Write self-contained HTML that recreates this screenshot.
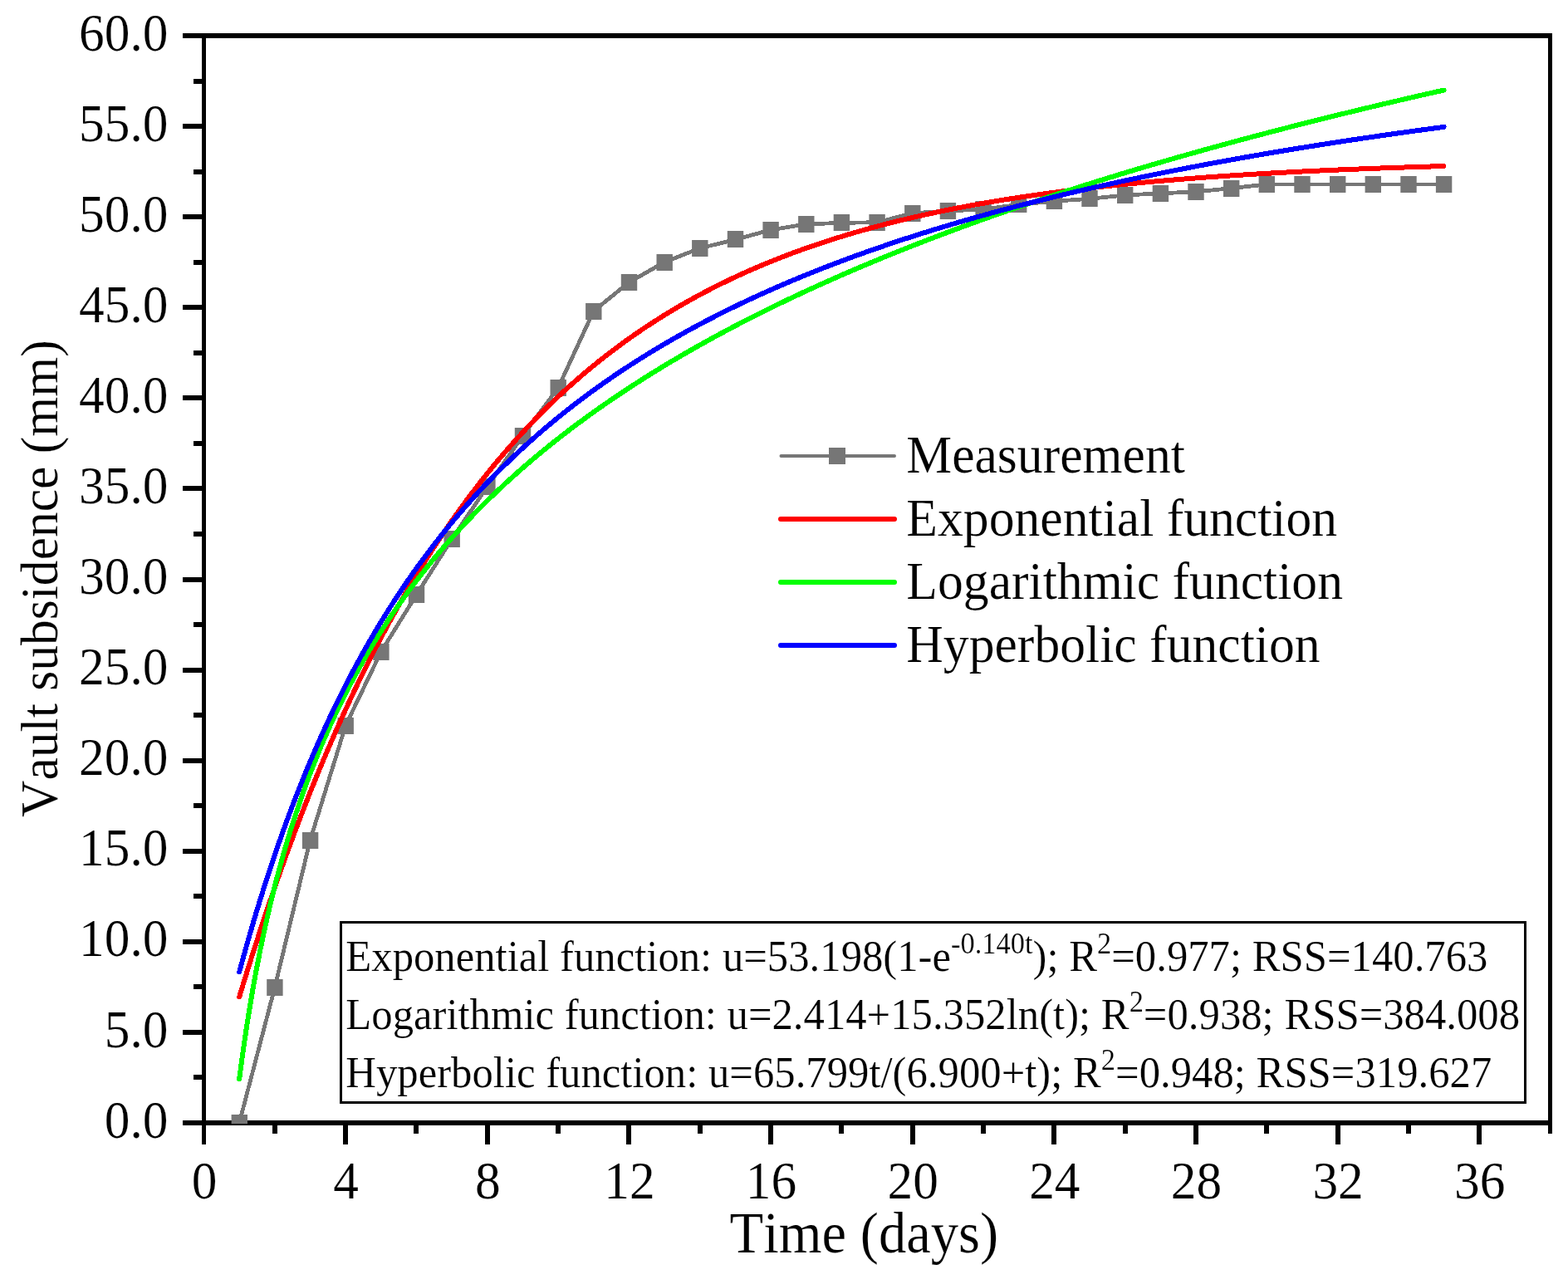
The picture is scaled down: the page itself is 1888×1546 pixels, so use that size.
<!DOCTYPE html>
<html lang="en"><head><meta charset="utf-8"><title>Vault subsidence fitting curves</title>
<style>
html,body{margin:0;padding:0;background:#fff;}
body{width:1888px;height:1546px;overflow:hidden;}
svg{display:block;}
text{font-family:"Liberation Serif",serif;fill:#000;font-kerning:none;font-variant-ligatures:none;stroke:#fff;stroke-width:0.2px;stroke-linejoin:round;}
.tick{font-size:62.6px;}
.leg{font-size:63px;}
.box{font-size:52px;}
</style></head><body>
<svg width="1888" height="1546" viewBox="0 0 1888 1546">
<rect x="0" y="0" width="1888" height="1546" fill="#ffffff"/>
<defs><clipPath id="plotclip"><rect x="245" y="43" width="1622" height="1310"/></clipPath></defs>
<g id="axes" fill="#000" shape-rendering="crispEdges">
<rect x="220" y="40" width="1649" height="6"/>
<rect x="220" y="1349" width="1649" height="6"/>
<rect x="243" y="40" width="5" height="1338"/>
<rect x="1864" y="40" width="5" height="1325"/>
<rect x="233" y="1294.0" width="11" height="6"/>
<rect x="220" y="1240.0" width="24" height="6"/>
<rect x="233" y="1185.0" width="11" height="6"/>
<rect x="220" y="1131.0" width="24" height="6"/>
<rect x="233" y="1076.0" width="11" height="6"/>
<rect x="220" y="1022.0" width="24" height="6"/>
<rect x="233" y="967.0" width="11" height="6"/>
<rect x="220" y="913.0" width="24" height="6"/>
<rect x="233" y="858.0" width="11" height="6"/>
<rect x="220" y="804.0" width="24" height="6"/>
<rect x="233" y="749.0" width="11" height="6"/>
<rect x="220" y="695.0" width="24" height="6"/>
<rect x="233" y="640.0" width="11" height="6"/>
<rect x="220" y="585.0" width="24" height="6"/>
<rect x="233" y="531.0" width="11" height="6"/>
<rect x="220" y="476.0" width="24" height="6"/>
<rect x="233" y="422.0" width="11" height="6"/>
<rect x="220" y="367.0" width="24" height="6"/>
<rect x="233" y="313.0" width="11" height="6"/>
<rect x="220" y="258.0" width="24" height="6"/>
<rect x="233" y="204.0" width="11" height="6"/>
<rect x="220" y="149.0" width="24" height="6"/>
<rect x="233" y="95.0" width="11" height="6"/>
<rect x="328.0" y="1352" width="6" height="13"/>
<rect x="413.0" y="1352" width="6" height="26"/>
<rect x="498.0" y="1352" width="6" height="13"/>
<rect x="584.0" y="1352" width="6" height="26"/>
<rect x="669.0" y="1352" width="6" height="13"/>
<rect x="754.0" y="1352" width="6" height="26"/>
<rect x="840.0" y="1352" width="6" height="13"/>
<rect x="925.0" y="1352" width="6" height="26"/>
<rect x="1010.0" y="1352" width="6" height="13"/>
<rect x="1096.0" y="1352" width="6" height="26"/>
<rect x="1181.0" y="1352" width="6" height="13"/>
<rect x="1266.0" y="1352" width="6" height="26"/>
<rect x="1352.0" y="1352" width="6" height="13"/>
<rect x="1437.0" y="1352" width="6" height="26"/>
<rect x="1522.0" y="1352" width="6" height="13"/>
<rect x="1608.0" y="1352" width="6" height="26"/>
<rect x="1693.0" y="1352" width="6" height="13"/>
<rect x="1778.0" y="1352" width="6" height="26"/>
</g>
<g id="ylabels" class="tick" text-anchor="end">
<text transform="translate(202.4,1369.6) scale(0.98,1)">0.0</text>
<text transform="translate(202.4,1260.5) scale(0.98,1)">5.0</text>
<text transform="translate(202.4,1151.4) scale(0.98,1)">10.0</text>
<text transform="translate(202.4,1042.3) scale(0.98,1)">15.0</text>
<text transform="translate(202.4,933.3) scale(0.98,1)">20.0</text>
<text transform="translate(202.4,824.2) scale(0.98,1)">25.0</text>
<text transform="translate(202.4,715.1) scale(0.98,1)">30.0</text>
<text transform="translate(202.4,606.0) scale(0.98,1)">35.0</text>
<text transform="translate(202.4,496.9) scale(0.98,1)">40.0</text>
<text transform="translate(202.4,387.9) scale(0.98,1)">45.0</text>
<text transform="translate(202.4,278.8) scale(0.98,1)">50.0</text>
<text transform="translate(202.4,169.7) scale(0.98,1)">55.0</text>
<text transform="translate(202.4,60.6) scale(0.98,1)">60.0</text>
</g>
<g id="xlabels" class="tick" text-anchor="middle">
<text transform="translate(246.0,1443) scale(0.98,1)">0</text>
<text transform="translate(416.6,1443) scale(0.98,1)">4</text>
<text transform="translate(587.3,1443) scale(0.98,1)">8</text>
<text transform="translate(757.9,1443) scale(0.98,1)">12</text>
<text transform="translate(928.5,1443) scale(0.98,1)">16</text>
<text transform="translate(1099.2,1443) scale(0.98,1)">20</text>
<text transform="translate(1269.8,1443) scale(0.98,1)">24</text>
<text transform="translate(1440.4,1443) scale(0.98,1)">28</text>
<text transform="translate(1611.1,1443) scale(0.98,1)">32</text>
<text transform="translate(1781.7,1443) scale(0.98,1)">36</text>
</g>
<text id="xtitle" x="878.6" y="1508.3" font-size="69" textLength="323.5" lengthAdjust="spacingAndGlyphs">Time (days)</text>
<text id="ytitle" transform="translate(69,984) rotate(-90) scale(0.9625,1)" font-size="64">Vault subsidence (mm)</text>
<g id="series" clip-path="url(#plotclip)" fill="none" stroke-linejoin="round" stroke-linecap="round" shape-rendering="crispEdges">
<polyline points="288.16,1352.00 330.82,1189.03 373.47,1011.66 416.13,873.56 458.79,784.77 501.45,716.04 544.11,649.07 586.76,585.80 629.42,524.71 672.08,466.90 714.74,374.61 757.39,339.92 800.05,315.71 842.71,298.91 885.37,288.44 928.03,276.87 970.68,269.89 1013.34,268.37 1056.00,267.71 1098.66,256.80 1141.32,253.97 1183.97,252.00 1226.63,246.33 1269.29,242.19 1311.95,239.35 1354.61,234.99 1397.26,232.81 1439.92,230.84 1482.58,226.70 1525.24,221.90 1567.89,221.90 1610.55,221.90 1653.21,221.90 1695.87,221.90 1738.53,221.90" stroke="#767676" stroke-width="4.8"/>
<rect x="278.6" y="1342" width="19.4" height="20" fill="#767676" stroke="none" shape-rendering="auto"/>
<rect x="321.2" y="1179" width="19.4" height="20" fill="#767676" stroke="none" shape-rendering="auto"/>
<rect x="363.9" y="1002" width="19.4" height="20" fill="#767676" stroke="none" shape-rendering="auto"/>
<rect x="406.5" y="864" width="19.4" height="20" fill="#767676" stroke="none" shape-rendering="auto"/>
<rect x="449.2" y="775" width="19.4" height="20" fill="#767676" stroke="none" shape-rendering="auto"/>
<rect x="491.8" y="706" width="19.4" height="20" fill="#767676" stroke="none" shape-rendering="auto"/>
<rect x="534.5" y="639" width="19.4" height="20" fill="#767676" stroke="none" shape-rendering="auto"/>
<rect x="577.2" y="576" width="19.4" height="20" fill="#767676" stroke="none" shape-rendering="auto"/>
<rect x="619.8" y="515" width="19.4" height="20" fill="#767676" stroke="none" shape-rendering="auto"/>
<rect x="662.5" y="457" width="19.4" height="20" fill="#767676" stroke="none" shape-rendering="auto"/>
<rect x="705.1" y="365" width="19.4" height="20" fill="#767676" stroke="none" shape-rendering="auto"/>
<rect x="747.8" y="330" width="19.4" height="20" fill="#767676" stroke="none" shape-rendering="auto"/>
<rect x="790.5" y="306" width="19.4" height="20" fill="#767676" stroke="none" shape-rendering="auto"/>
<rect x="833.1" y="289" width="19.4" height="20" fill="#767676" stroke="none" shape-rendering="auto"/>
<rect x="875.8" y="278" width="19.4" height="20" fill="#767676" stroke="none" shape-rendering="auto"/>
<rect x="918.4" y="267" width="19.4" height="20" fill="#767676" stroke="none" shape-rendering="auto"/>
<rect x="961.1" y="260" width="19.4" height="20" fill="#767676" stroke="none" shape-rendering="auto"/>
<rect x="1003.7" y="258" width="19.4" height="20" fill="#767676" stroke="none" shape-rendering="auto"/>
<rect x="1046.4" y="258" width="19.4" height="20" fill="#767676" stroke="none" shape-rendering="auto"/>
<rect x="1089.1" y="247" width="19.4" height="20" fill="#767676" stroke="none" shape-rendering="auto"/>
<rect x="1131.7" y="244" width="19.4" height="20" fill="#767676" stroke="none" shape-rendering="auto"/>
<rect x="1174.4" y="242" width="19.4" height="20" fill="#767676" stroke="none" shape-rendering="auto"/>
<rect x="1217.0" y="236" width="19.4" height="20" fill="#767676" stroke="none" shape-rendering="auto"/>
<rect x="1259.7" y="232" width="19.4" height="20" fill="#767676" stroke="none" shape-rendering="auto"/>
<rect x="1302.3" y="229" width="19.4" height="20" fill="#767676" stroke="none" shape-rendering="auto"/>
<rect x="1345.0" y="225" width="19.4" height="20" fill="#767676" stroke="none" shape-rendering="auto"/>
<rect x="1387.7" y="223" width="19.4" height="20" fill="#767676" stroke="none" shape-rendering="auto"/>
<rect x="1430.3" y="221" width="19.4" height="20" fill="#767676" stroke="none" shape-rendering="auto"/>
<rect x="1473.0" y="217" width="19.4" height="20" fill="#767676" stroke="none" shape-rendering="auto"/>
<rect x="1515.6" y="212" width="19.4" height="20" fill="#767676" stroke="none" shape-rendering="auto"/>
<rect x="1558.3" y="212" width="19.4" height="20" fill="#767676" stroke="none" shape-rendering="auto"/>
<rect x="1601.0" y="212" width="19.4" height="20" fill="#767676" stroke="none" shape-rendering="auto"/>
<rect x="1643.6" y="212" width="19.4" height="20" fill="#767676" stroke="none" shape-rendering="auto"/>
<rect x="1686.3" y="212" width="19.4" height="20" fill="#767676" stroke="none" shape-rendering="auto"/>
<rect x="1728.9" y="212" width="19.4" height="20" fill="#767676" stroke="none" shape-rendering="auto"/>
<polyline points="288.16,1200.38 292.42,1186.35 296.69,1172.52 300.96,1158.88 305.22,1145.43 309.49,1132.16 313.75,1119.08 318.02,1106.19 322.28,1093.47 326.55,1080.93 330.82,1068.56 335.08,1056.37 339.35,1044.34 343.61,1032.48 347.88,1020.79 352.14,1009.26 356.41,997.89 360.68,986.68 364.94,975.62 369.21,964.72 373.47,953.97 377.74,943.37 382.01,932.91 386.27,922.60 390.54,912.44 394.80,902.41 399.07,892.53 403.33,882.78 407.60,873.17 411.87,863.69 416.13,854.34 420.40,845.13 424.66,836.04 428.93,827.08 433.19,818.24 437.46,809.52 441.73,800.93 445.99,792.46 450.26,784.10 454.52,775.86 458.79,767.74 463.06,759.72 467.32,751.82 471.59,744.03 475.85,736.35 480.12,728.77 484.38,721.30 488.65,713.93 492.92,706.67 497.18,699.51 501.45,692.44 505.71,685.48 509.98,678.61 514.24,671.83 518.51,665.15 522.78,658.57 527.04,652.07 531.31,645.67 535.57,639.35 539.84,633.13 544.11,626.98 548.37,620.93 552.64,614.96 556.90,609.07 561.17,603.26 565.43,597.54 569.70,591.89 573.97,586.32 578.23,580.83 582.50,575.42 586.76,570.08 591.03,564.81 595.29,559.62 599.56,554.50 603.83,549.45 608.09,544.48 612.36,539.57 616.62,534.73 620.89,529.95 625.16,525.25 629.42,520.61 633.69,516.03 637.95,511.52 642.22,507.07 646.48,502.68 650.75,498.35 655.02,494.08 659.28,489.87 663.55,485.73 667.81,481.63 672.08,477.60 676.34,473.62 680.61,469.70 684.88,465.83 689.14,462.01 693.41,458.25 697.67,454.54 701.94,450.88 706.21,447.27 710.47,443.72 714.74,440.21 719.00,436.75 723.27,433.34 727.53,429.97 731.80,426.66 736.07,423.39 740.33,420.16 744.60,416.98 748.86,413.85 753.13,410.75 757.39,407.70 761.66,404.70 765.93,401.73 770.19,398.81 774.46,395.92 778.72,393.08 782.99,390.28 787.26,387.51 791.52,384.78 795.79,382.10 800.05,379.44 804.32,376.83 808.58,374.25 812.85,371.71 817.12,369.20 821.38,366.73 825.65,364.29 829.91,361.89 834.18,359.52 838.44,357.18 842.71,354.88 846.98,352.60 851.24,350.36 855.51,348.15 859.77,345.97 864.04,343.83 868.31,341.71 872.57,339.62 876.84,337.56 881.10,335.52 885.37,333.52 889.63,331.54 893.90,329.60 898.17,327.67 902.43,325.78 906.70,323.91 910.96,322.07 915.23,320.25 919.49,318.46 923.76,316.69 928.03,314.95 932.29,313.24 936.56,311.54 940.82,309.87 945.09,308.22 949.36,306.60 953.62,305.00 957.89,303.42 962.15,301.86 966.42,300.33 970.68,298.81 974.95,297.32 979.22,295.85 983.48,294.39 987.75,292.96 992.01,291.55 996.28,290.16 1000.54,288.78 1004.81,287.43 1009.08,286.10 1013.34,284.78 1017.61,283.48 1021.87,282.20 1026.14,280.94 1030.41,279.69 1034.67,278.47 1038.94,277.25 1043.20,276.06 1047.47,274.88 1051.73,273.72 1056.00,272.58 1060.27,271.45 1064.53,270.34 1068.80,269.24 1073.06,268.16 1077.33,267.09 1081.59,266.04 1085.86,265.00 1090.13,263.98 1094.39,262.97 1098.66,261.97 1102.92,260.99 1107.19,260.02 1111.46,259.07 1115.72,258.13 1119.99,257.20 1124.25,256.29 1128.52,255.38 1132.78,254.50 1137.05,253.62 1141.32,252.75 1145.58,251.90 1149.85,251.06 1154.11,250.23 1158.38,249.41 1162.64,248.61 1166.91,247.81 1171.18,247.03 1175.44,246.25 1179.71,245.49 1183.97,244.74 1188.24,244.00 1192.51,243.26 1196.77,242.54 1201.04,241.83 1205.30,241.13 1209.57,240.44 1213.83,239.76 1218.10,239.09 1222.37,238.42 1226.63,237.77 1230.90,237.12 1235.16,236.49 1239.43,235.86 1243.69,235.24 1247.96,234.63 1252.23,234.03 1256.49,233.44 1260.76,232.86 1265.02,232.28 1269.29,231.71 1273.56,231.15 1277.82,230.60 1282.09,230.05 1286.35,229.52 1290.62,228.99 1294.88,228.46 1299.15,227.95 1303.42,227.44 1307.68,226.94 1311.95,226.44 1316.21,225.96 1320.48,225.48 1324.74,225.00 1329.01,224.54 1333.28,224.07 1337.54,223.62 1341.81,223.17 1346.07,222.73 1350.34,222.30 1354.61,221.87 1358.87,221.44 1363.14,221.02 1367.40,220.61 1371.67,220.21 1375.93,219.81 1380.20,219.41 1384.47,219.02 1388.73,218.64 1393.00,218.26 1397.26,217.89 1401.53,217.52 1405.79,217.15 1410.06,216.80 1414.33,216.44 1418.59,216.09 1422.86,215.75 1427.12,215.41 1431.39,215.08 1435.66,214.75 1439.92,214.42 1444.19,214.10 1448.45,213.79 1452.72,213.48 1456.98,213.17 1461.25,212.87 1465.52,212.57 1469.78,212.27 1474.05,211.98 1478.31,211.70 1482.58,211.42 1486.84,211.14 1491.11,210.86 1495.38,210.59 1499.64,210.33 1503.91,210.06 1508.17,209.80 1512.44,209.55 1516.71,209.30 1520.97,209.05 1525.24,208.80 1529.50,208.56 1533.77,208.32 1538.03,208.09 1542.30,207.85 1546.57,207.62 1550.83,207.40 1555.10,207.18 1559.36,206.96 1563.63,206.74 1567.89,206.53 1572.16,206.32 1576.43,206.11 1580.69,205.90 1584.96,205.70 1589.22,205.50 1593.49,205.31 1597.76,205.11 1602.02,204.92 1606.29,204.74 1610.55,204.55 1614.82,204.37 1619.08,204.19 1623.35,204.01 1627.62,203.83 1631.88,203.66 1636.15,203.49 1640.41,203.32 1644.68,203.16 1648.94,202.99 1653.21,202.83 1657.48,202.67 1661.74,202.52 1666.01,202.36 1670.27,202.21 1674.54,202.06 1678.81,201.91 1683.07,201.76 1687.34,201.62 1691.60,201.48 1695.87,201.34 1700.13,201.20 1704.40,201.06 1708.67,200.93 1712.93,200.80 1717.20,200.67 1721.46,200.54 1725.73,200.41 1729.99,200.28 1734.26,200.16 1738.53,200.04" stroke="#ff0000" stroke-width="6"/>
<polyline points="288.16,1299.33 292.42,1267.41 296.69,1238.27 300.96,1211.46 305.22,1186.64 309.49,1163.53 313.75,1141.92 318.02,1121.61 322.28,1102.47 326.55,1084.36 330.82,1067.18 335.08,1050.84 339.35,1035.26 343.61,1020.37 347.88,1006.11 352.14,992.44 356.41,979.31 360.68,966.67 364.94,954.48 369.21,942.73 373.47,931.38 377.74,920.39 382.01,909.76 386.27,899.45 390.54,889.46 394.80,879.75 399.07,870.31 403.33,861.14 407.60,852.20 411.87,843.50 416.13,835.02 420.40,826.75 424.66,818.68 428.93,810.80 433.19,803.10 437.46,795.57 441.73,788.21 445.99,781.01 450.26,773.96 454.52,767.05 458.79,760.29 463.06,753.65 467.32,747.15 471.59,740.77 475.85,734.51 480.12,728.36 484.38,722.33 488.65,716.40 492.92,710.58 497.18,704.85 501.45,699.22 505.71,693.69 509.98,688.24 514.24,682.88 518.51,677.61 522.78,672.41 527.04,667.30 531.31,662.26 535.57,657.30 539.84,652.41 544.11,647.59 548.37,642.84 552.64,638.16 556.90,633.54 561.17,628.98 565.43,624.48 569.70,620.05 573.97,615.67 578.23,611.35 582.50,607.08 586.76,602.87 591.03,598.71 595.29,594.60 599.56,590.54 603.83,586.53 608.09,582.56 612.36,578.65 616.62,574.77 620.89,570.95 625.16,567.16 629.42,563.42 633.69,559.72 637.95,556.06 642.22,552.44 646.48,548.85 650.75,545.31 655.02,541.80 659.28,538.33 663.55,534.90 667.81,531.50 672.08,528.13 676.34,524.80 680.61,521.50 684.88,518.23 689.14,514.99 693.41,511.79 697.67,508.61 701.94,505.47 706.21,502.35 710.47,499.27 714.74,496.21 719.00,493.18 723.27,490.17 727.53,487.20 731.80,484.25 736.07,481.32 740.33,478.42 744.60,475.55 748.86,472.70 753.13,469.87 757.39,467.07 761.66,464.29 765.93,461.53 770.19,458.80 774.46,456.08 778.72,453.39 782.99,450.72 787.26,448.08 791.52,445.45 795.79,442.84 800.05,440.26 804.32,437.69 808.58,435.14 812.85,432.62 817.12,430.11 821.38,427.62 825.65,425.15 829.91,422.69 834.18,420.26 838.44,417.84 842.71,415.44 846.98,413.05 851.24,410.69 855.51,408.34 859.77,406.00 864.04,403.68 868.31,401.38 872.57,399.10 876.84,396.82 881.10,394.57 885.37,392.33 889.63,390.10 893.90,387.89 898.17,385.70 902.43,383.51 906.70,381.35 910.96,379.19 915.23,377.05 919.49,374.93 923.76,372.81 928.03,370.71 932.29,368.63 936.56,366.55 940.82,364.49 945.09,362.44 949.36,360.41 953.62,358.38 957.89,356.37 962.15,354.37 966.42,352.38 970.68,350.41 974.95,348.44 979.22,346.49 983.48,344.55 987.75,342.62 992.01,340.70 996.28,338.79 1000.54,336.89 1004.81,335.01 1009.08,333.13 1013.34,331.26 1017.61,329.41 1021.87,327.56 1026.14,325.73 1030.41,323.90 1034.67,322.09 1038.94,320.28 1043.20,318.49 1047.47,316.70 1051.73,314.92 1056.00,313.16 1060.27,311.40 1064.53,309.65 1068.80,307.91 1073.06,306.18 1077.33,304.46 1081.59,302.74 1085.86,301.04 1090.13,299.34 1094.39,297.65 1098.66,295.98 1102.92,294.31 1107.19,292.64 1111.46,290.99 1115.72,289.34 1119.99,287.71 1124.25,286.08 1128.52,284.45 1132.78,282.84 1137.05,281.23 1141.32,279.63 1145.58,278.04 1149.85,276.46 1154.11,274.88 1158.38,273.31 1162.64,271.75 1166.91,270.20 1171.18,268.65 1175.44,267.11 1179.71,265.58 1183.97,264.05 1188.24,262.53 1192.51,261.02 1196.77,259.52 1201.04,258.02 1205.30,256.53 1209.57,255.04 1213.83,253.56 1218.10,252.09 1222.37,250.62 1226.63,249.17 1230.90,247.71 1235.16,246.27 1239.43,244.82 1243.69,243.39 1247.96,241.96 1252.23,240.54 1256.49,239.12 1260.76,237.71 1265.02,236.31 1269.29,234.91 1273.56,233.52 1277.82,232.13 1282.09,230.75 1286.35,229.37 1290.62,228.00 1294.88,226.64 1299.15,225.28 1303.42,223.93 1307.68,222.58 1311.95,221.24 1316.21,219.90 1320.48,218.57 1324.74,217.24 1329.01,215.92 1333.28,214.61 1337.54,213.29 1341.81,211.99 1346.07,210.69 1350.34,209.39 1354.61,208.10 1358.87,206.82 1363.14,205.54 1367.40,204.26 1371.67,202.99 1375.93,201.72 1380.20,200.46 1384.47,199.20 1388.73,197.95 1393.00,196.70 1397.26,195.46 1401.53,194.22 1405.79,192.99 1410.06,191.76 1414.33,190.54 1418.59,189.32 1422.86,188.10 1427.12,186.89 1431.39,185.68 1435.66,184.48 1439.92,183.28 1444.19,182.09 1448.45,180.90 1452.72,179.71 1456.98,178.53 1461.25,177.35 1465.52,176.18 1469.78,175.01 1474.05,173.85 1478.31,172.68 1482.58,171.53 1486.84,170.38 1491.11,169.23 1495.38,168.08 1499.64,166.94 1503.91,165.80 1508.17,164.67 1512.44,163.54 1516.71,162.41 1520.97,161.29 1525.24,160.17 1529.50,159.06 1533.77,157.95 1538.03,156.84 1542.30,155.74 1546.57,154.64 1550.83,153.54 1555.10,152.45 1559.36,151.36 1563.63,150.27 1567.89,149.19 1572.16,148.11 1576.43,147.04 1580.69,145.97 1584.96,144.90 1589.22,143.83 1593.49,142.77 1597.76,141.71 1602.02,140.66 1606.29,139.61 1610.55,138.56 1614.82,137.51 1619.08,136.47 1623.35,135.43 1627.62,134.40 1631.88,133.36 1636.15,132.34 1640.41,131.31 1644.68,130.29 1648.94,129.27 1653.21,128.25 1657.48,127.24 1661.74,126.23 1666.01,125.22 1670.27,124.22 1674.54,123.21 1678.81,122.22 1683.07,121.22 1687.34,120.23 1691.60,119.24 1695.87,118.25 1700.13,117.27 1704.40,116.29 1708.67,115.31 1712.93,114.34 1717.20,113.36 1721.46,112.39 1725.73,111.43 1729.99,110.46 1734.26,109.50 1738.53,108.54" stroke="#00ff00" stroke-width="6"/>
<polyline points="288.16,1170.29 292.42,1154.62 296.69,1139.33 300.96,1124.42 305.22,1109.86 309.49,1095.66 313.75,1081.79 318.02,1068.24 322.28,1055.00 326.55,1042.06 330.82,1029.41 335.08,1017.05 339.35,1004.95 343.61,993.12 347.88,981.54 352.14,970.21 356.41,959.12 360.68,948.26 364.94,937.62 369.21,927.20 373.47,917.00 377.74,906.99 382.01,897.18 386.27,887.57 390.54,878.14 394.80,868.89 399.07,859.82 403.33,850.92 407.60,842.19 411.87,833.62 416.13,825.21 420.40,816.94 424.66,808.83 428.93,800.86 433.19,793.04 437.46,785.35 441.73,777.79 445.99,770.37 450.26,763.07 454.52,755.90 458.79,748.84 463.06,741.91 467.32,735.08 471.59,728.37 475.85,721.77 480.12,715.28 484.38,708.89 488.65,702.60 492.92,696.41 497.18,690.32 501.45,684.32 505.71,678.41 509.98,672.60 514.24,666.87 518.51,661.23 522.78,655.67 527.04,650.19 531.31,644.80 535.57,639.48 539.84,634.24 544.11,629.08 548.37,623.99 552.64,618.97 556.90,614.02 561.17,609.15 565.43,604.34 569.70,599.59 573.97,594.91 578.23,590.30 582.50,585.75 586.76,581.25 591.03,576.82 595.29,572.45 599.56,568.13 603.83,563.87 608.09,559.67 612.36,555.52 616.62,551.42 620.89,547.38 625.16,543.39 629.42,539.44 633.69,535.55 637.95,531.71 642.22,527.91 646.48,524.16 650.75,520.45 655.02,516.79 659.28,513.18 663.55,509.60 667.81,506.07 672.08,502.58 676.34,499.14 680.61,495.73 684.88,492.36 689.14,489.03 693.41,485.74 697.67,482.49 701.94,479.27 706.21,476.09 710.47,472.95 714.74,469.84 719.00,466.77 723.27,463.73 727.53,460.72 731.80,457.74 736.07,454.80 740.33,451.89 744.60,449.01 748.86,446.17 753.13,443.35 757.39,440.56 761.66,437.80 765.93,435.07 770.19,432.37 774.46,429.70 778.72,427.05 782.99,424.44 787.26,421.84 791.52,419.28 795.79,416.74 800.05,414.23 804.32,411.74 808.58,409.27 812.85,406.83 817.12,404.42 821.38,402.03 825.65,399.66 829.91,397.31 834.18,394.99 838.44,392.69 842.71,390.41 846.98,388.15 851.24,385.92 855.51,383.70 859.77,381.51 864.04,379.34 868.31,377.19 872.57,375.05 876.84,372.94 881.10,370.85 885.37,368.77 889.63,366.71 893.90,364.68 898.17,362.66 902.43,360.66 906.70,358.67 910.96,356.71 915.23,354.76 919.49,352.83 923.76,350.92 928.03,349.02 932.29,347.14 936.56,345.28 940.82,343.43 945.09,341.59 949.36,339.78 953.62,337.98 957.89,336.19 962.15,334.42 966.42,332.66 970.68,330.92 974.95,329.20 979.22,327.48 983.48,325.78 987.75,324.10 992.01,322.43 996.28,320.77 1000.54,319.13 1004.81,317.50 1009.08,315.88 1013.34,314.28 1017.61,312.69 1021.87,311.11 1026.14,309.54 1030.41,307.99 1034.67,306.45 1038.94,304.92 1043.20,303.40 1047.47,301.90 1051.73,300.40 1056.00,298.92 1060.27,297.45 1064.53,295.99 1068.80,294.54 1073.06,293.10 1077.33,291.68 1081.59,290.26 1085.86,288.86 1090.13,287.46 1094.39,286.08 1098.66,284.70 1102.92,283.34 1107.19,281.99 1111.46,280.64 1115.72,279.31 1119.99,277.98 1124.25,276.67 1128.52,275.36 1132.78,274.07 1137.05,272.78 1141.32,271.50 1145.58,270.24 1149.85,268.98 1154.11,267.73 1158.38,266.49 1162.64,265.25 1166.91,264.03 1171.18,262.82 1175.44,261.61 1179.71,260.41 1183.97,259.22 1188.24,258.04 1192.51,256.86 1196.77,255.70 1201.04,254.54 1205.30,253.39 1209.57,252.25 1213.83,251.12 1218.10,249.99 1222.37,248.87 1226.63,247.76 1230.90,246.65 1235.16,245.56 1239.43,244.47 1243.69,243.38 1247.96,242.31 1252.23,241.24 1256.49,240.18 1260.76,239.13 1265.02,238.08 1269.29,237.04 1273.56,236.00 1277.82,234.98 1282.09,233.95 1286.35,232.94 1290.62,231.93 1294.88,230.93 1299.15,229.94 1303.42,228.95 1307.68,227.96 1311.95,226.99 1316.21,226.02 1320.48,225.05 1324.74,224.10 1329.01,223.14 1333.28,222.20 1337.54,221.26 1341.81,220.32 1346.07,219.39 1350.34,218.47 1354.61,217.55 1358.87,216.64 1363.14,215.73 1367.40,214.83 1371.67,213.93 1375.93,213.04 1380.20,212.16 1384.47,211.28 1388.73,210.40 1393.00,209.53 1397.26,208.67 1401.53,207.81 1405.79,206.96 1410.06,206.11 1414.33,205.26 1418.59,204.42 1422.86,203.59 1427.12,202.76 1431.39,201.93 1435.66,201.11 1439.92,200.30 1444.19,199.49 1448.45,198.68 1452.72,197.88 1456.98,197.08 1461.25,196.29 1465.52,195.50 1469.78,194.72 1474.05,193.94 1478.31,193.16 1482.58,192.39 1486.84,191.63 1491.11,190.86 1495.38,190.11 1499.64,189.35 1503.91,188.60 1508.17,187.86 1512.44,187.11 1516.71,186.38 1520.97,185.64 1525.24,184.91 1529.50,184.19 1533.77,183.47 1538.03,182.75 1542.30,182.04 1546.57,181.33 1550.83,180.62 1555.10,179.92 1559.36,179.22 1563.63,178.52 1567.89,177.83 1572.16,177.14 1576.43,176.46 1580.69,175.78 1584.96,175.10 1589.22,174.43 1593.49,173.76 1597.76,173.09 1602.02,172.43 1606.29,171.77 1610.55,171.11 1614.82,170.46 1619.08,169.81 1623.35,169.17 1627.62,168.52 1631.88,167.88 1636.15,167.25 1640.41,166.61 1644.68,165.98 1648.94,165.36 1653.21,164.73 1657.48,164.11 1661.74,163.49 1666.01,162.88 1670.27,162.27 1674.54,161.66 1678.81,161.05 1683.07,160.45 1687.34,159.85 1691.60,159.26 1695.87,158.66 1700.13,158.07 1704.40,157.48 1708.67,156.90 1712.93,156.32 1717.20,155.74 1721.46,155.16 1725.73,154.59 1729.99,154.02 1734.26,153.45 1738.53,152.88" stroke="#0000ff" stroke-width="6"/>
</g>
<g id="legend" stroke-linecap="round">
<line x1="940.5" y1="549" x2="1077" y2="549" stroke="#767676" stroke-width="4"/>
<rect x="998" y="539" width="20" height="20" fill="#767676"/>
<line x1="940" y1="625" x2="1077" y2="625" stroke="#ff0000" stroke-width="6"/>
<line x1="940" y1="701" x2="1077" y2="701" stroke="#00ff00" stroke-width="6"/>
<line x1="940" y1="777" x2="1077" y2="777" stroke="#0000ff" stroke-width="6"/>
<text class="leg" transform="translate(1091.3,569.4) scale(0.979,1)">Measurement</text>
<text class="leg" transform="translate(1091.3,645.4) scale(0.979,1)">Exponential function</text>
<text class="leg" transform="translate(1091.3,721.4) scale(0.979,1)">Logarithmic function</text>
<text class="leg" transform="translate(1091.3,797.4) scale(0.979,1)">Hyperbolic function</text>
</g>
<g id="eqbox">
<rect x="410.5" y="1110.5" width="1426" height="217" fill="#fff" stroke="#000" stroke-width="3" shape-rendering="crispEdges"/>
<text class="box" transform="translate(416.3,1169.0) scale(0.9757,1)">Exponential function: u=53.198(1-e<tspan font-size="35.3" dy="-20.8">-0.140t</tspan><tspan dy="20.8">); R</tspan><tspan font-size="35.3" dy="-20.8">2</tspan><tspan dy="20.8">=0.977; RSS=140.763</tspan></text>
<text class="box" transform="translate(416.3,1239.0) scale(0.9757,1)">Logarithmic function: u=2.414+15.352ln(t); R<tspan font-size="35.3" dy="-20.8">2</tspan><tspan dy="20.8">=0.938; RSS=384.008</tspan></text>
<text class="box" transform="translate(416.3,1309.0) scale(0.9757,1)">Hyperbolic function: u=65.799t/(6.900+t); R<tspan font-size="35.3" dy="-20.8">2</tspan><tspan dy="20.8">=0.948; RSS=319.627</tspan></text>
</g>
</svg>
</body></html>
